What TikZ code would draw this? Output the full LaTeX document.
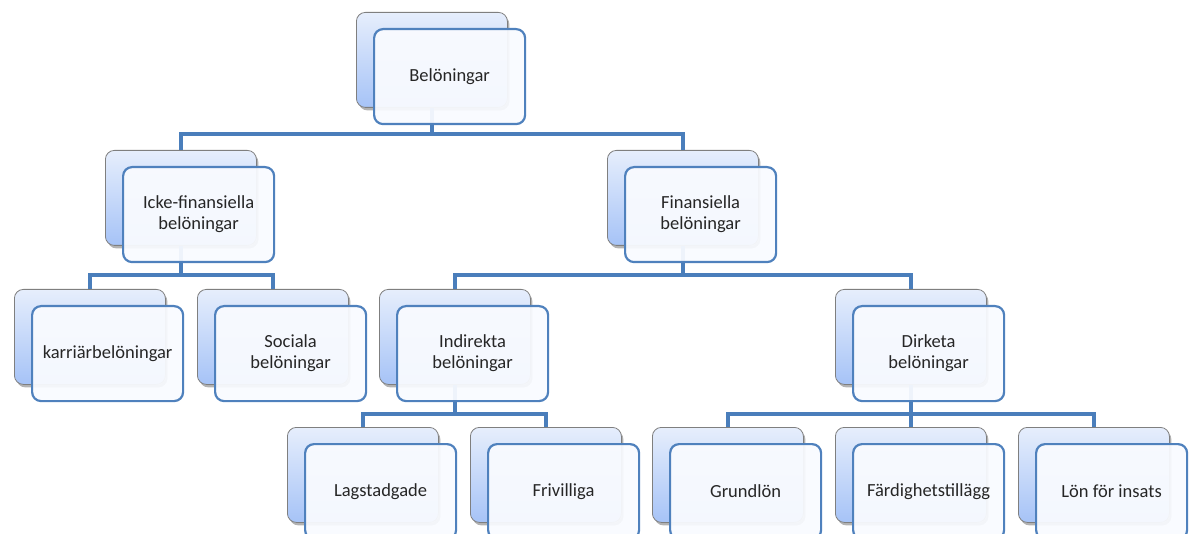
\documentclass[tikz,border=0pt]{standalone}
\usepackage{fontspec}
\setmainfont{Carlito}
\usetikzlibrary{shadows}
\definecolor{conncol}{HTML}{4A7EBB}
\definecolor{frontcol}{HTML}{4F81BD}
\definecolor{backtop}{HTML}{E6EEFC}
\definecolor{backbot}{HTML}{A6C3F7}
\definecolor{backline}{HTML}{7F7F7F}
\definecolor{frontfill}{HTML}{F9FBFF}
\tikzset{
  backbox/.style={draw=backline, line width=0.8pt, rounded corners=9pt,
    top color=backtop, bottom color=backbot,
    minimum width=151pt, minimum height=95pt, anchor=north west, inner sep=0pt,
    drop shadow={shadow xshift=2pt, shadow yshift=-3pt, opacity=0.3, fill=black}},
  frontbox/.style={draw=frontcol, line width=2.2pt, rounded corners=9pt,
    fill=frontfill, fill opacity=0.94, text opacity=1,
    minimum width=151pt, minimum height=95pt, anchor=north west, inner sep=0pt,
    align=center, font=\fontsize{18.5}{21}\selectfont, text=black!85},
  conn/.style={draw=conncol, line width=4pt},
}
\begin{document}
\begin{tikzpicture}[x=1pt,y=-1pt]
\useasboundingbox (0,0) rectangle (1190,534);
\clip (0,0) rectangle (1190,534);
% back boxes
\node[backbox] (topb)  at (356,12)  {};
\node[backbox] (ickeb) at (105,150) {};
\node[backbox] (finb)  at (607,150) {};
\node[backbox] (karb)  at (14,289)  {};
\node[backbox] (socb)  at (197,289) {};
\node[backbox] (indb)  at (379,289) {};
\node[backbox] (dirb)  at (835,289) {};
\node[backbox] (lagb)  at (287,427) {};
\node[backbox] (frib)  at (470,427) {};
\node[backbox] (grub)  at (652,427) {};
\node[backbox] (farb)  at (835,427) {};
\node[backbox] (lonb)  at (1018,427) {};
% connectors
\draw[conn] (topb.south) |- ([yshift=16pt]ickeb.north) -- (ickeb.north);
\draw[conn] (topb.south) |- ([yshift=16pt]finb.north) -- (finb.north);
\draw[conn] (ickeb.south) |- ([yshift=14pt]karb.north) -- (karb.north);
\draw[conn] (ickeb.south) |- ([yshift=14pt]socb.north) -- (socb.north);
\draw[conn] (finb.south) |- ([yshift=14pt]indb.north) -- (indb.north);
\draw[conn] (finb.south) |- ([yshift=14pt]dirb.north) -- (dirb.north);
\draw[conn] (indb.south) |- ([yshift=13pt]lagb.north) -- (lagb.north);
\draw[conn] (indb.south) |- ([yshift=13pt]frib.north) -- (frib.north);
\draw[conn] (dirb.south) |- ([yshift=13pt]grub.north) -- (grub.north);
\draw[conn] (dirb.south) |- ([yshift=13pt]farb.north) -- (farb.north);
\draw[conn] (dirb.south) |- ([yshift=13pt]lonb.north) -- (lonb.north);
% front boxes
\node[frontbox] (top)  at (373,28)  {Belöningar};
\node[frontbox] (icke) at (122,166) {Icke-finansiella\\belöningar};
\node[frontbox] (fin)  at (624,166) {Finansiella\\belöningar};
\node[frontbox] (kar)  at (31,305)  {karriärbelöningar};
\node[frontbox] (soc)  at (214,305) {Sociala\\belöningar};
\node[frontbox] (ind)  at (396,305) {Indirekta\\belöningar};
\node[frontbox] (dir)  at (852,305) {Dirketa\\belöningar};
\node[frontbox] (lag)  at (304,443) {Lagstadgade};
\node[frontbox] (fri)  at (487,443) {Frivilliga};
\node[frontbox] (gru)  at (669,443) {Grundlön};
\node[frontbox] (far)  at (852,443) {Färdighetstillägg};
\node[frontbox] (lon)  at (1035,443) {Lön för insats};
\end{tikzpicture}
\end{document}
